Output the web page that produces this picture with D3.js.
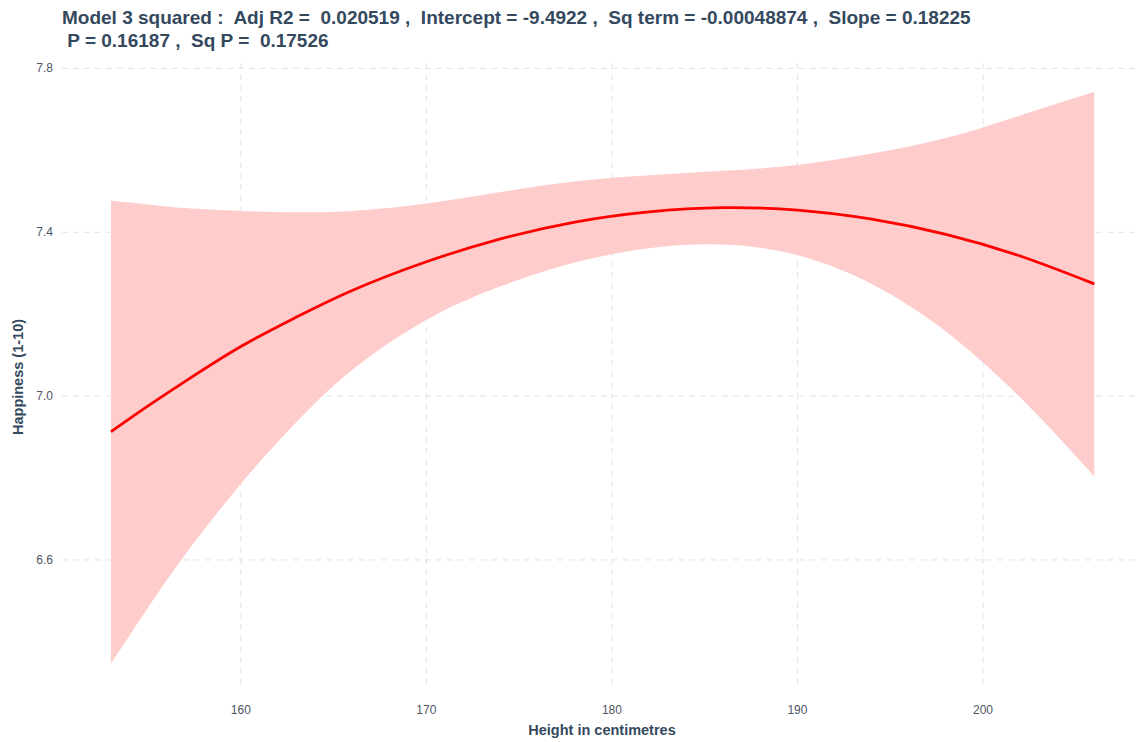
<!DOCTYPE html>
<html>
  <head>
    <meta charset="utf-8">
    <script src="https://d3js.org/d3.v7.min.js"></script>
    <style>
      body { margin: 0; background: #fff; }
      text { font-family: "Liberation Sans", Arial, sans-serif; }
    </style>
  </head>
<body>
  <script type="text/javascript">
    // values (height in cm)
    var heights = [153, 155, 157, 160, 163, 166, 170, 174, 178, 182, 186, 190, 194, 198, 202, 206];
    var fit     = [6.913, 6.976, 7.036, 7.121, 7.193, 7.258, 7.328, 7.384, 7.425, 7.450, 7.460, 7.454, 7.432, 7.395, 7.342, 7.274];
    var upper   = [7.477, 7.468, 7.459, 7.452, 7.449, 7.452, 7.470, 7.498, 7.524, 7.539, 7.550, 7.564, 7.592, 7.630, 7.685, 7.743];
    var lower   = [6.347, 6.484, 6.613, 6.786, 6.937, 7.064, 7.186, 7.268, 7.326, 7.361, 7.370, 7.344, 7.274, 7.158, 6.997, 6.804];
    var xTicks = [160, 170, 180, 190, 200];
    var yTicks = [6.6, 7.0, 7.4, 7.8];
    var titleLines = ["Model 3 squared :  Adj R2 =  0.020519 ,  Intercept = -9.4922 ,  Sq term = -0.00048874 ,  Slope = 0.18225",
                      " P = 0.16187 ,  Sq P =  0.17526"];

    var width = 1136, height = 742;
    var svg = d3.select("body").append("svg")
        .attr("width", width)
        .attr("height", height);

    var x = d3.scaleLinear().domain([150.35, 208.65]).range([61.8, 1143.5]);
    var y = d3.scaleLinear().domain([6.285, 7.812]).range([689, 63.5]);

    var data = heights.map(function (h, i) {
      return {h: h, fit: fit[i], lo: lower[i], hi: upper[i]};
    });

    // grid
    svg.append("g").selectAll("line")
      .data(yTicks).enter().append("line")
        .attr("x1", 62).attr("x2", 1136)
        .attr("y1", function (d) { return y(d); })
        .attr("y2", function (d) { return y(d); })
        .style("stroke", "#e3e3e3")
        .style("stroke-dasharray", "6,5");
    svg.append("g").selectAll("line")
      .data(xTicks).enter().append("line")
        .attr("y1", 63).attr("y2", 690)
        .attr("x1", function (d) { return x(d); })
        .attr("x2", function (d) { return x(d); })
        .style("stroke", "#e3e3e3")
        .style("stroke-dasharray", "6,5");

    // ribbon + fitted line
    var area = d3.area()
      .x(function (d) { return x(d.h); })
      .y0(function (d) { return y(d.lo); })
      .y1(function (d) { return y(d.hi); })
      .curve(d3.curveNatural);
    svg.append("path").datum(data)
      .attr("d", area)
      .style("fill", "#ffcccc");

    var line = d3.line()
      .x(function (d) { return x(d.h); })
      .y(function (d) { return y(d.fit); })
      .curve(d3.curveNatural);
    svg.append("path").datum(data)
      .attr("d", line)
      .style("fill", "none")
      .style("stroke", "#ff0000")
      .style("stroke-width", 2.8);

    // tick labels
    svg.append("g").selectAll("text")
      .data(yTicks).enter().append("text")
        .attr("x", 53)
        .attr("y", function (d) { return y(d) + 4; })
        .attr("text-anchor", "end")
        .style("font-size", "12px")
        .style("fill", "#4d5566")
        .text(function (d) { return d3.format(".1f")(d); });
    svg.append("g").selectAll("text")
      .data(xTicks).enter().append("text")
        .attr("x", function (d) { return x(d); })
        .attr("y", 714)
        .attr("text-anchor", "middle")
        .style("font-size", "12px")
        .style("fill", "#4d5566")
        .text(function (d) { return d; });

    // axis titles
    svg.append("text")
      .attr("x", 602).attr("y", 735)
      .attr("text-anchor", "middle")
      .style("font-size", "14.5px")
      .style("font-weight", "bold")
      .style("fill", "#34495e")
      .text("Height in centimetres");
    svg.append("text")
      .attr("transform", "translate(23,377) rotate(-90)")
      .attr("text-anchor", "middle")
      .style("font-size", "14.5px")
      .style("font-weight", "bold")
      .style("fill", "#34495e")
      .text("Happiness (1-10)");

    // title
    svg.selectAll("text.title")
      .data(titleLines).enter().append("text")
        .attr("class", "title")
        .attr("x", 62)
        .attr("y", function (d, i) { return 24 + i * 23; })
        .attr("xml:space", "preserve")
        .style("white-space", "pre")
        .style("font-size", "19px")
        .style("font-weight", "bold")
        .style("fill", "#34495e")
        .text(function (d) { return d; });
  </script>
</body>
</html>
